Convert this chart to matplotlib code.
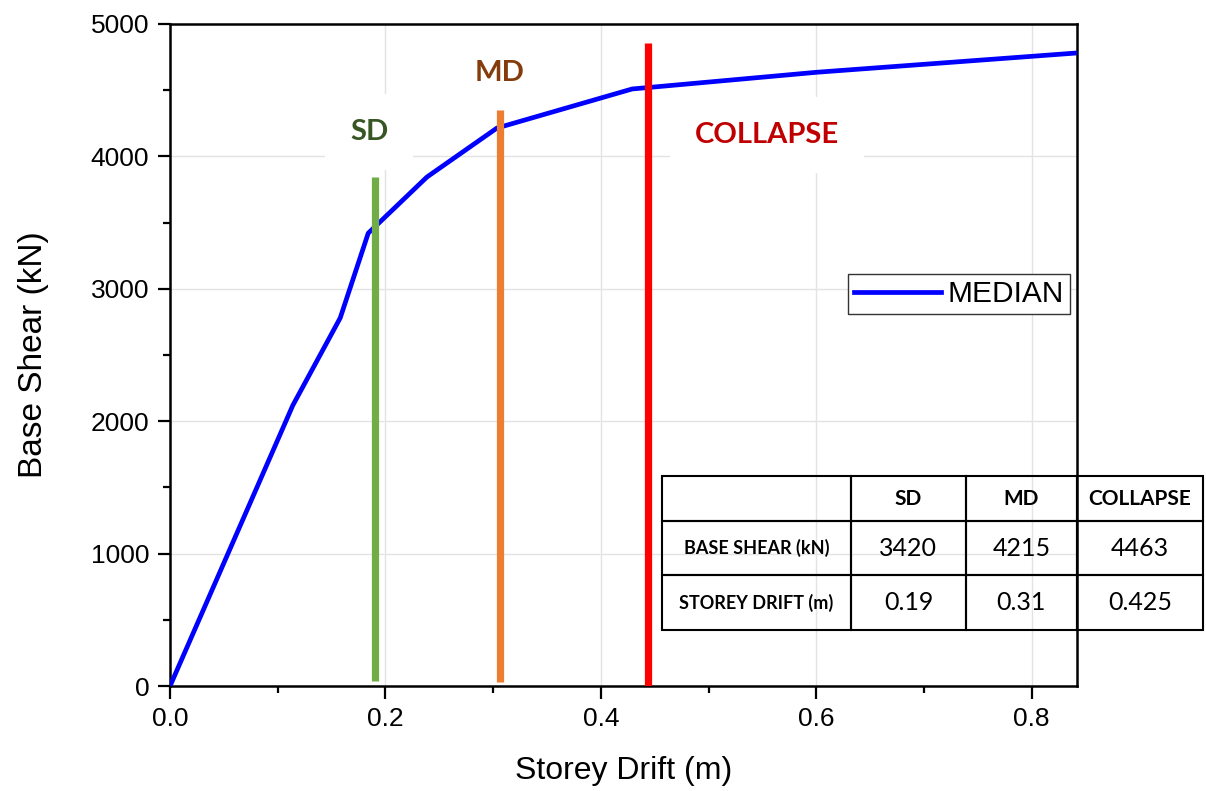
import matplotlib
matplotlib.use('Agg')
import matplotlib.pyplot as plt
from matplotlib.ticker import MultipleLocator

# median pushover curve
drift = [0.0, 0.114, 0.158, 0.184, 0.2385, 0.3035, 0.429, 0.60, 0.842]
shear = [0, 2120, 2780, 3420, 3844, 4214, 4509, 4635, 4781]

# performance levels
levels = ['SD', 'MD', 'COLLAPSE']
level_drift = [0.190, 0.306, 0.4436]
level_top = [3845, 4350, 4857]
level_bottom = [40, 30, 0]
line_colors = ['#70AD47', '#ED7D31', '#FF0000']
text_colors = ['#375623', '#843C0C', '#C00000']
label_x = [0.1847, 0.3063, 0.554]
label_y = [4184, 4630, 4162]

# table contents
col_labels = ['', 'SD', 'MD', 'COLLAPSE']
row_labels = ['BASE SHEAR (kN)', 'STOREY DRIFT (m)']
table_shear = ['3420', '4215', '4463']
table_drift = ['0.19', '0.31', '0.425']

CALIBRI = 'Lato'
plt.rcParams['font.family'] = ['Liberation Sans', 'DejaVu Sans']

fig = plt.figure(figsize=(12.06, 7.91), dpi=100)
ax = fig.add_axes([0.141, 0.1327, 0.752, 0.837])

ax.grid(True, which='major', color='#e3e3e3', linewidth=1.0, zorder=0)
ax.set_axisbelow(True)

ax.plot(drift, shear, color='#0000FF', linewidth=3.4, label='MEDIAN', zorder=3,
        solid_joinstyle='round')

for i in range(len(levels)):
    ax.vlines(level_drift[i], level_bottom[i], level_top[i], color=line_colors[i],
              linewidth=5.2, zorder=4, capstyle='butt')
    ax.text(label_x[i], label_y[i], levels[i], color=text_colors[i], fontsize=21,
            fontweight='bold', family=CALIBRI, ha='center', va='center', zorder=2,
            bbox=dict(boxstyle='square,pad=0.85', facecolor='white', edgecolor='none'))

ax.set_xlim(0, 0.842)
ax.set_ylim(0, 5000)
ax.xaxis.set_major_locator(MultipleLocator(0.2))
ax.xaxis.set_minor_locator(MultipleLocator(0.1))
ax.yaxis.set_major_locator(MultipleLocator(1000))
ax.yaxis.set_minor_locator(MultipleLocator(500))
ax.xaxis.set_major_formatter(plt.FuncFormatter(lambda v, p: f'{v:.1f}'))

ax.tick_params(which='major', direction='out', length=9, width=1.6, labelsize=19, pad=6)
ax.tick_params(which='minor', direction='out', length=5, width=1.6)
for sp in ax.spines.values():
    sp.set_linewidth(1.8)

ax.set_xlabel('Storey Drift (m)', fontsize=23, labelpad=18)
ax.set_ylabel('Base Shear (kN)', fontsize=24, labelpad=30)

leg = ax.legend(loc='center', bbox_to_anchor=(0.87, 0.592), fancybox=False,
                edgecolor='#333333', framealpha=1, handlelength=2.9, handletextpad=0.25,
                borderpad=0.2, borderaxespad=0, prop={'size': 21.5})
leg.get_frame().set_linewidth(1.0)

cells = [row_labels[0:1] + table_shear, row_labels[1:2] + table_drift]
tbl = ax.table(cellText=cells, colLabels=col_labels,
               colWidths=[189, 115, 111, 126],
               bbox=[0.5424, 0.0846, 0.5965, 0.2326], cellLoc='center')
tbl.auto_set_font_size(False)
tbl.set_zorder(6)
row_heights = [45, 54, 55]
for (r, c), cell in tbl.get_celld().items():
    cell.set_facecolor('none')
    cell.set_linewidth(1.5)
    cell.set_edgecolor('black')
    cell.set_height(row_heights[r] / 1000)
    txt = cell.get_text()
    txt.set_family(CALIBRI)
    if r == 0:
        txt.set_fontsize(15)
        txt.set_fontweight('bold')
    elif c == 0:
        txt.set_fontsize(13)
        txt.set_fontweight('bold')
    else:
        txt.set_fontsize(18)
tbl.set_clip_on(False)

fig.savefig('out.png', dpi=100)
